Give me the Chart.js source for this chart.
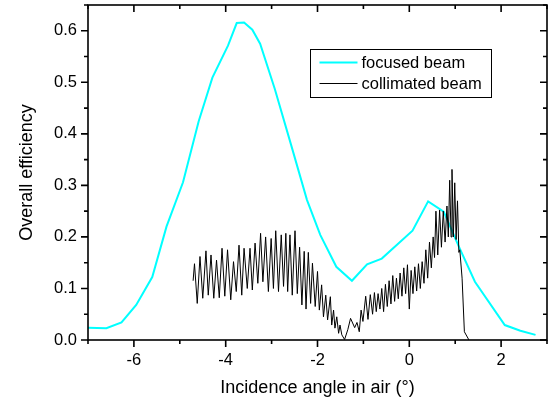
<!DOCTYPE html>
<html>
<head>
<meta charset="utf-8">
<script src="https://cdn.jsdelivr.net/npm/chart.js@4"></script>
<style>
html,body{margin:0;padding:0;background:#fff;}
#wrap{width:550px;height:405px;}
</style>
</head>
<body>
<div id="wrap"><canvas id="c" width="550" height="405"></canvas></div>
<script>
// ---- data ----
const focusedX = [-7.0, -6.6, -6.27, -5.95, -5.6, -5.29, -4.93, -4.59, -4.29, -3.95, -3.76, -3.6, -3.42, -3.25, -2.93, -2.58, -2.23, -1.94, -1.59, -1.25, -0.92, -0.6, 0.07, 0.41, 0.75, 1.08, 1.43, 2.08, 2.42, 2.75];
const focusedY = [0.024, 0.023, 0.034, 0.068, 0.122, 0.22, 0.306, 0.424, 0.509, 0.571, 0.615, 0.616, 0.602, 0.575, 0.487, 0.38, 0.272, 0.204, 0.142, 0.115, 0.147, 0.158, 0.212, 0.269, 0.249, 0.181, 0.113, 0.029, 0.018, 0.010];

const collimatedX = [
 -4.71, -4.68, -4.62, -4.56, -4.50, -4.43, -4.38, -4.32, -4.26, -4.20, -4.14, -4.08, -4.02, -3.96, -3.89, -3.83, -3.77, -3.71, -3.65, -3.60, -3.53,
 -3.47, -3.42, -3.36, -3.30, -3.24, -3.19, -3.13, -3.07, -3.01, -2.96, -2.91, -2.85, -2.79, -2.74, -2.69, -2.65, -2.60, -2.55, -2.49, -2.44, -2.39, -2.34, -2.29, -2.25,
 -2.20, -2.15, -2.11, -2.05, -2.00, -1.96, -1.91, -1.87, -1.82, -1.78, -1.72, -1.69, -1.65, -1.62, -1.58, -1.54, -1.51, -1.47, -1.41,
 -1.34, -1.28, -1.19, -1.14, -1.09, -1.05, -1.01, -0.95, -0.90, -0.85, -0.80, -0.76, -0.72, -0.68, -0.64, -0.60, -0.56, -0.52, -0.48, -0.44, -0.40,
 -0.36, -0.32, -0.28, -0.24, -0.20, -0.16, -0.12, -0.08, -0.04, 0.00, 0.04, 0.08, 0.12, 0.16, 0.20, 0.24, 0.28, 0.32, 0.36, 0.40, 0.44, 0.48,
 0.52, 0.55, 0.58, 0.62, 0.66, 0.70, 0.74, 0.78, 0.82, 0.85, 0.88, 0.91, 0.93, 0.96, 0.99, 1.02, 1.05, 1.08, 1.10, 1.15, 1.20, 1.30
];
const collimatedY = [
 0.115, 0.148, 0.071, 0.162, 0.081, 0.173, 0.087, 0.165, 0.081, 0.155, 0.082, 0.178, 0.085, 0.175, 0.078, 0.152, 0.094, 0.184, 0.087, 0.178, 0.100,
 0.178, 0.097, 0.188, 0.110, 0.207, 0.113, 0.200, 0.094, 0.197, 0.100, 0.212, 0.094, 0.204, 0.104, 0.207, 0.094, 0.204, 0.087, 0.212, 0.090, 0.180, 0.068, 0.172, 0.060,
 0.170, 0.071, 0.149, 0.065, 0.133, 0.058, 0.107, 0.045, 0.087, 0.039, 0.084, 0.029, 0.058, 0.023, 0.045, 0.013, 0.029, 0.010, 0.001,
 0.020, 0.042, 0.024, 0.034, 0.016, 0.058, 0.036, 0.085, 0.040, 0.088, 0.050, 0.092, 0.055, 0.090, 0.060, 0.100, 0.055, 0.108, 0.065, 0.115, 0.070,
 0.125, 0.075, 0.120, 0.080, 0.130, 0.085, 0.140, 0.090, 0.146, 0.060, 0.135, 0.090, 0.142, 0.095, 0.148, 0.100, 0.152, 0.110, 0.175, 0.120, 0.190, 0.140,
 0.200, 0.160, 0.250, 0.165, 0.252, 0.180, 0.250, 0.190, 0.260, 0.200, 0.310, 0.200, 0.331, 0.200, 0.305, 0.195, 0.270, 0.170, 0.175, 0.120, 0.016, 0.000
];

const xMajorTicks = [-6, -4, -2, 0, 2];
const xMinorTicks = [-7, -5, -3, -1, 1, 3];
const yMajorTicks = [0.0, 0.1, 0.2, 0.3, 0.4, 0.5, 0.6];
const yMinorTicks = [0.05, 0.15, 0.25, 0.35, 0.45, 0.55, 0.65];

const seriesLabels = ['focused beam', 'collimated beam'];
const xTitle = 'Incidence angle in air (°)';
const yTitle = 'Overall efficiency';

const FONT = "'Liberation Sans', Arial, Helvetica, sans-serif";

const toPts = (xs, ys) => xs.map((v, i) => ({x: v, y: ys[i]}));

// axis frame + inward/outward tick marks + boxed legend
const decorations = {
  id: 'decorations',
  afterDraw(chart) {
    const {ctx, chartArea: a, scales} = chart;
    const sx = scales.x, sy = scales.y;
    ctx.save();
    ctx.strokeStyle = '#000';
    ctx.lineWidth = 1.6;
    ctx.strokeRect(a.left, a.top, a.right - a.left, a.bottom - a.top);
    const MAJ = 7, MIN = 4;
    ctx.beginPath();
    const xt = (v, len) => {
      const p = sx.getPixelForValue(v);
      ctx.moveTo(p, a.bottom); ctx.lineTo(p, a.bottom + len);
      ctx.moveTo(p, a.top); ctx.lineTo(p, a.top + len);
    };
    const yt = (v, len) => {
      const p = sy.getPixelForValue(v);
      ctx.moveTo(a.left, p); ctx.lineTo(a.left - len, p);
      ctx.moveTo(a.right, p); ctx.lineTo(a.right - len, p);
    };
    xMajorTicks.forEach(v => xt(v, MAJ));
    xMinorTicks.forEach(v => xt(v, MIN));
    yMajorTicks.forEach(v => yt(v, MAJ));
    yMinorTicks.forEach(v => yt(v, MIN));
    ctx.stroke();

    // legend
    const lx = 310.5, ly = 49.5, lw = 181, lh = 48;
    ctx.lineWidth = 1;
    ctx.strokeRect(lx, ly, lw, lh);
    ctx.font = '16.5px ' + FONT;
    ctx.fillStyle = '#000';
    ctx.textBaseline = 'middle';
    ctx.textAlign = 'left';
    chart.data.datasets.forEach((ds, i) => {
      const yy = ly + 13 + i * 21;
      ctx.beginPath();
      ctx.strokeStyle = ds.borderColor;
      ctx.lineWidth = ds.borderWidth;
      ctx.moveTo(lx + 9, yy); ctx.lineTo(lx + 47, yy);
      ctx.stroke();
      ctx.fillText(ds.label, lx + 51, yy + 1);
    });
    ctx.restore();
  }
};

new Chart(document.getElementById('c'), {
  type: 'scatter',
  data: {
    datasets: [
      {label: seriesLabels[0], data: toPts(focusedX, focusedY), showLine: true, borderColor: '#00FFFF', borderWidth: 2, pointRadius: 0, tension: 0, order: 2},
      {label: seriesLabels[1], data: toPts(collimatedX, collimatedY), showLine: true, borderColor: '#000000', borderWidth: 1, pointRadius: 0, tension: 0, order: 1}
    ]
  },
  options: {
    responsive: false,
    animation: false,
    devicePixelRatio: 1,
    layout: {padding: {left: 0, right: 3, top: 5, bottom: 0}},
    plugins: {legend: {display: false}, tooltip: {enabled: false}},
    scales: {
      x: {
        type: 'linear', position: 'bottom', min: -7, max: 3,
        grid: {display: false, drawTicks: false}, border: {display: false},
        afterBuildTicks: s => { s.ticks = xMajorTicks.map(v => ({value: v})); },
        afterFit: s => { s.height = 65; s.paddingLeft = 0; s.paddingRight = 0; },
        ticks: {color: '#000', font: {family: FONT, size: 16.5}, padding: 11, maxRotation: 0,
                callback: v => String(v)},
        title: {display: true, text: xTitle, color: '#000', font: {family: FONT, size: 18}, padding: {top: 0, bottom: 6}}
      },
      y: {
        type: 'linear', position: 'left', min: 0, max: 0.65,
        grid: {display: false, drawTicks: false}, border: {display: false},
        afterBuildTicks: s => { s.ticks = yMajorTicks.map(v => ({value: v})); },
        afterFit: s => { s.width = 88; s.paddingTop = 0; s.paddingBottom = 0; },
        ticks: {color: '#000', font: {family: FONT, size: 16.5}, padding: 11,
                callback: v => Number(v).toFixed(1)},
        title: {display: true, text: yTitle, color: '#000', font: {family: FONT, size: 18}, padding: {top: 16, bottom: 0}}
      }
    }
  },
  plugins: [decorations]
});
</script>
</body>
</html>
